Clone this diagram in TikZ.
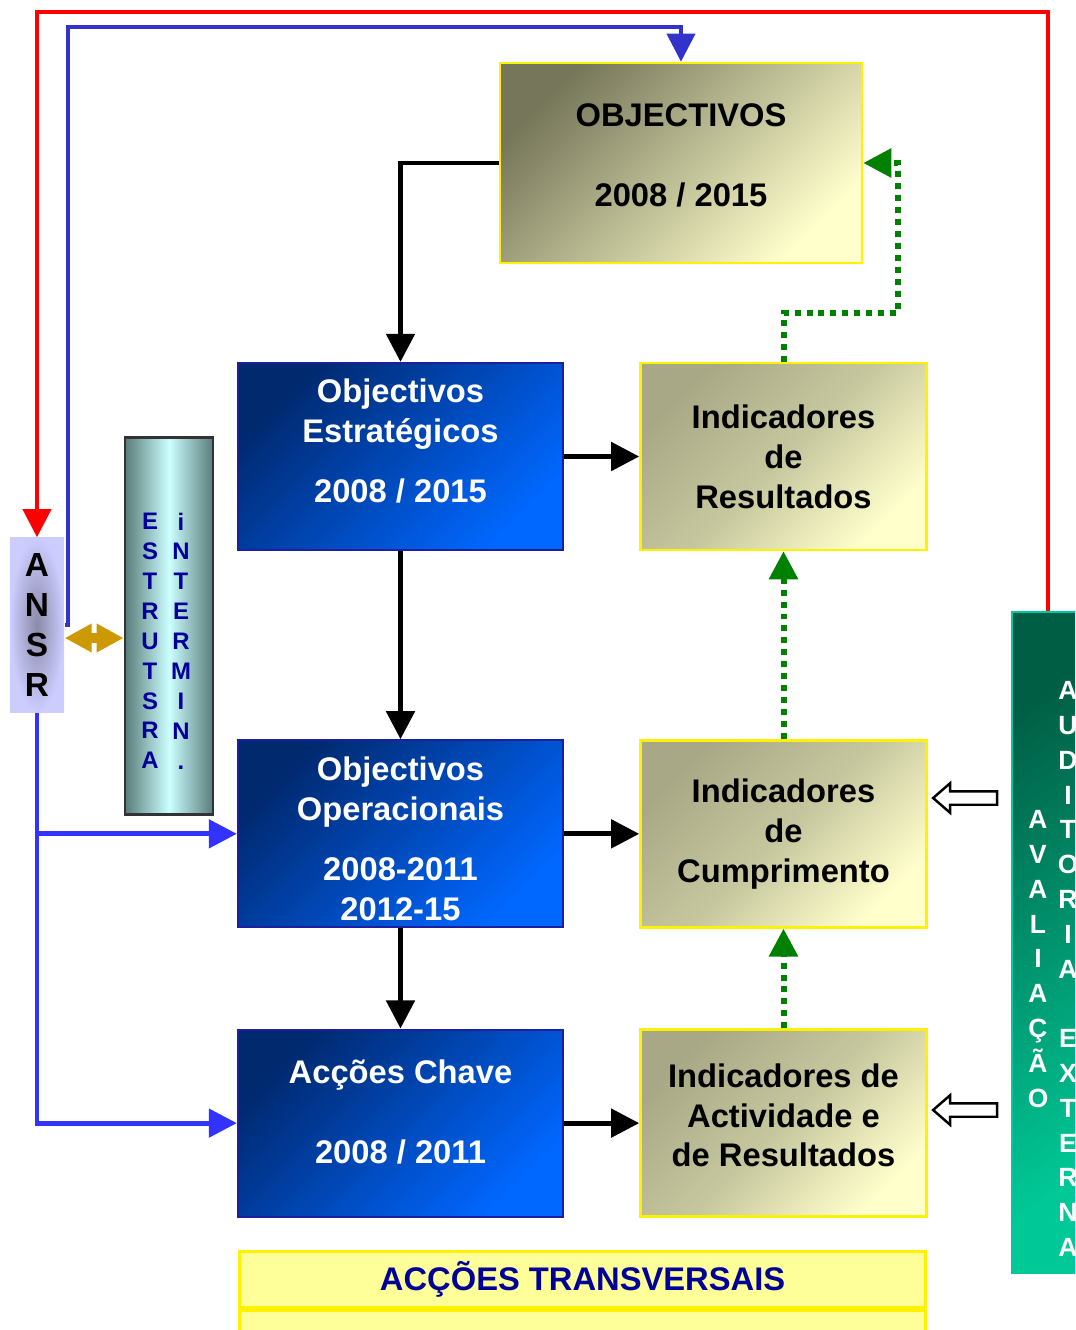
\documentclass[tikz,border=0pt]{standalone}
\usepackage{fontspec}
\setmainfont{Liberation Sans}
\usetikzlibrary{arrows.meta,positioning,shapes.arrows}

\definecolor{navyblue}{HTML}{00296E}
\definecolor{midblue}{HTML}{0048B8}
\definecolor{brightblue}{HTML}{0068FF}
\definecolor{boxblue}{HTML}{1E1EA0}
\definecolor{darkolive}{HTML}{76765A}
\definecolor{indolive}{HTML}{A8A886}
\definecolor{paleyellow}{HTML}{FFFFCC}
\definecolor{ansrcenter}{HTML}{8A8AA8}
\definecolor{ansredge}{HTML}{CCCCFF}
\definecolor{tealedge}{HTML}{5A7C7A}
\definecolor{tealcenter}{HTML}{CCFFFF}
\definecolor{textblue}{HTML}{000099}
\definecolor{bardark}{HTML}{005E44}
\definecolor{barlight}{HTML}{00C896}
\definecolor{barrim}{HTML}{00C8A0}
\definecolor{arrowgreen}{HTML}{008000}
\definecolor{linkblue}{HTML}{3333CC}
\definecolor{brightlink}{HTML}{3333FF}
\definecolor{gold}{HTML}{CC9900}
\definecolor{transyellow}{HTML}{FFFF99}

\newcommand{\textlift}[1]{\rule[-#1]{0pt}{#1}}

\begin{document}
\begin{tikzpicture}[x=0.01cm,y=-0.01cm,>={Triangle[length=0.28cm,width=0.28cm]},
  main font/.style={font=\bfseries\fontsize{9.3}{11.35}\selectfont},
  blue node/.style={rectangle,draw=boxblue,line width=0.6pt,top color=navyblue,bottom color=brightblue,
    middle color=midblue,shading angle=45,text=white,main font,align=center,
    minimum width=3.25cm,minimum height=1.87cm,inner sep=0pt},
  olive node/.style={rectangle,draw=yellow,line width=0.7pt,top color=indolive,bottom color=paleyellow,
    middle color=indolive!65!paleyellow,shading angle=45,main font,align=center,
    minimum width=2.86cm,minimum height=1.87cm,inner sep=0pt},
  aim node/.style={olive node,top color=darkolive,bottom color=paleyellow,shading angle=45,
    minimum width=3.62cm,minimum height=2cm},
  ansr node/.style={rectangle,inner color=ansrcenter,outer color=ansredge,align=center,inner sep=0pt,
    font=\bfseries\fontsize{9.5}{11.35}\selectfont,minimum width=0.54cm,minimum height=1.74cm},
  column node/.style={rectangle,draw=black!80,line width=0.8pt,left color=tealedge,right color=tealedge,
    middle color=tealcenter,minimum width=0.88cm,minimum height=3.76cm},
  bar node/.style={rectangle,draw=barrim,line width=0.6pt,top color=bardark,bottom color=barlight,
    shading angle=35,minimum width=0.72cm,minimum height=6.61cm},
  inner letters/.style={align=center,inner sep=0pt,text=textblue,font=\bfseries\fontsize{6.8}{8.5}\selectfont},
  outer letters/.style={align=center,inner sep=0pt,text=white,font=\bfseries\fontsize{7.5}{9.9}\selectfont},
  trans node/.style={rectangle,draw=yellow,line width=0.8pt,fill=transyellow,minimum width=6.86cm,
    minimum height=0.56cm,inner sep=0pt,text=textblue,main font},
  hollow arrow/.style={single arrow,draw=black,line width=0.7pt,fill=white,shape border rotate=180,
    minimum height=0.64cm,inner sep=0.055cm,single arrow head extend=0.08cm,
    single arrow tip angle=82},
  black arrow/.style={->,color=black,line width=1.4pt},
  green arrow/.style={->,color=arrowgreen,line width=1.7pt,dash pattern=on 1.7pt off 1.7pt},
  red arrow/.style={->,color=red,line width=1.15pt},
  blue arrow/.style={->,color=linkblue,line width=1.15pt},
  bright arrow/.style={->,color=brightlink,line width=1.4pt},
  gold arrow/.style={<->,color=gold,line width=3pt,>={Triangle[length=0.27cm,width=0.27cm]}}]

  \useasboundingbox (0,0) rectangle (1075,1330);
  \clip (0,0) rectangle (1075,1330);

  \node[aim node] (1) at (681,163) {OBJECTIVOS\\[11.4pt]2008 / 2015\textlift{4.7pt}};
  \node[blue node] (2) at (400.5,456.5) {Objectivos\\Estratégicos\\[5.7pt]2008 / 2015\textlift{9pt}};
  \node[olive node] (3) [right=0.75cm of 2] {Indicadores\\de\\Resultados};
  \node[blue node] (4) [below=1.88cm of 2] {\rule{0pt}{9.6pt}Objectivos\\Operacionais\\[5.7pt]2008-2011\\2012-15};
  \node[olive node] (5) [right=0.75cm of 4] {Indicadores\\de\\Cumprimento};
  \node[blue node] (6) [below=1cm of 4] {Acções Chave\\[11.4pt]2008 / 2011\textlift{6.4pt}};
  \node[olive node] (7) [right=0.75cm of 6] {Indicadores de\\Actividade e\\de Resultados\textlift{4.5pt}};
  \node[trans node,anchor=north west] (8) at (238,1250) {ACÇÕES TRANSVERSAIS};
  \node[trans node] (8b) [below=0pt of 8] {};

  \node[ansr node] (9) at (37,625) {A\\N\\S\\R};
  \node[column node] (10) at (169,626) {};
  \node[inner letters] (10a) at (150,641) {E\\S\\T\\R\\U\\T\\S\\R\\A};
  \node[inner letters] (10b) at (181,641) {i\\N\\T\\E\\R\\M\\I\\N\\.};

  \node[bar node] (11) at (1048,942.5) {};
  \node[outer letters] (11a) at (1038,959) {A\\V\\A\\L\\I\\A\\Ç\\Ã\\O};
  \node[outer letters] (11b) at (1068,969) {A\\U\\D\\I\\T\\O\\R\\I\\A\\[9.9pt]E\\X\\T\\E\\R\\N\\A};
  \node[hollow arrow] (12) at (969,798) {};
  \node[hollow arrow] (13) at (969,1110) {};

  \path[black arrow]
    (2) edge (3)
        edge (4)
    (4) edge (5)
        edge (6)
    (6) edge (7);
  \draw[black arrow] (1.west) -| (2.north);

  \draw[green arrow] (3.north) |- (898,313) |- (1.east);
  \path[green arrow]
    (5) edge (3)
    (7) edge (5);

  \draw[red arrow] (11.north) |- (9.north |- 0,12) -- (9.north);
  \draw[blue arrow] (9.east) -| (68,27) -| (1.north);
  \draw[bright arrow] (9.south) |- (6.west);
  \draw[bright arrow] (9.south |- 4.west) -- (4.west);
  \draw[gold arrow] ([yshift=-0.13cm]9.east) -- ([yshift=-0.13cm]9.east -| 10.west);

\end{tikzpicture}
\end{document}
